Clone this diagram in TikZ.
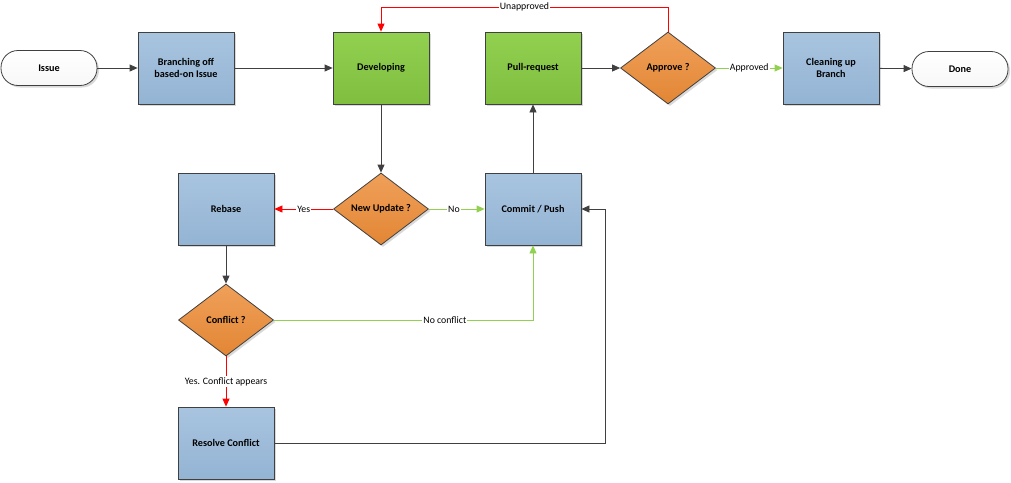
\documentclass[tikz,border=0pt]{standalone}
\usepackage{fontspec}
\setmainfont{Carlito}
\usetikzlibrary{shapes.geometric,arrows.meta,shadows}
\definecolor{lineg}{HTML}{404040}
\definecolor{redl}{HTML}{FF0000}
\definecolor{greenl}{HTML}{92D050}
\definecolor{bluetop}{RGB}{168,196,223}
\definecolor{bluebot}{RGB}{148,180,212}
\definecolor{greentop}{RGB}{146,208,80}
\definecolor{greenbot}{RGB}{128,190,64}
\definecolor{orangetop}{RGB}{240,160,90}
\definecolor{orangebot}{RGB}{226,134,52}
\tikzset{
  base/.style={draw=lineg, line width=0.8pt, font=\bfseries\fontsize{10.2}{12.5}\selectfont, align=center,
    drop shadow={shadow xshift=2pt, shadow yshift=-2pt, fill=black!25, opacity=0.6}},
  bluebox/.style={base, rectangle, minimum width=96pt, minimum height=72pt, top color=bluetop, bottom color=bluebot},
  greenbox/.style={base, rectangle, minimum width=96pt, minimum height=72pt, top color=greentop, bottom color=greenbot},
  decision/.style={base, diamond, aspect=1.33, inner sep=0pt, minimum width=95pt, minimum height=72pt, top color=orangetop, bottom color=orangebot},
  terminal/.style={base, rectangle, rounded corners=17pt, minimum width=96pt, minimum height=35pt, top color=white, bottom color=black!3},
  conn/.style={draw=lineg, line width=0.8pt, -{Triangle[length=8pt,width=7pt]}},
  rconn/.style={draw=redl, line width=0.8pt, -{Triangle[length=8pt,width=7pt]}},
  gconn/.style={draw=greenl, line width=0.8pt, -{Triangle[length=8pt,width=7pt]}},
  elabel/.style={fill=white, inner sep=1pt, font=\fontsize{9.8}{12}\selectfont, text=black}
}
\begin{document}
\begin{tikzpicture}[x=1pt,y=-1pt]
\useasboundingbox (0,0) rectangle (1011,482);
\node[terminal] (issue) at (49,68) {Issue};
\node[bluebox] (branch) at (186,68) {Branching off\\based-on Issue};
\node[greenbox] (dev) at (381,68) {Developing};
\node[greenbox] (pr) at (533,68) {Pull-request};
\node[decision] (approve) at (668,68) {Approve ?};
\node[bluebox] (clean) at (831,68) {Cleaning up\\Branch};
\node[terminal] (done) at (960,69) {Done};
\node[bluebox] (rebase) at (226,209) {Rebase};
\node[decision] (newup) at (381,209) {New Update ?};
\node[bluebox] (commit) at (533,209) {Commit / Push};
\node[decision] (conflict) at (226,320) {Conflict ?};
\node[bluebox] (resolve) at (226,443) {Resolve Conflict};
\coordinate (ua) at (668,7);
\coordinate (ub) at (381,7);
\coordinate (nc) at (533,320);
\coordinate (ra) at (605,443);
\coordinate (rb) at (605,209);

\draw[conn] (issue) -- (branch);
\draw[conn] (branch) -- (dev);
\draw[conn] (dev) -- (newup);
\draw[rconn] (newup) -- node[elabel, pos=0.5] {Yes} (rebase);
\draw[gconn] (newup) -- node[elabel, pos=0.45] {No} (commit);
\draw[conn] (commit) -- (pr);
\draw[conn] (pr) -- (approve);
\draw[gconn] (approve) -- node[elabel, pos=0.5] {Approved} (clean);
\draw[conn] (clean) -- (done);
\draw[rconn] (approve.north) -- (ua) -- node[elabel, pos=0.5] {Unapproved} (ub) -- (dev.north);
\draw[conn] (rebase) -- (conflict);
\draw[gconn] (conflict.east) -- node[elabel, pos=0.66] {No conflict} (nc) -- (commit.south);
\draw[rconn] (conflict.south) -- node[elabel, pos=0.5] {Yes. Conflict appears} (resolve.north);
\draw[conn] (resolve.east) -- (ra) -- (rb) -- (commit.east);
\end{tikzpicture}
\end{document}
